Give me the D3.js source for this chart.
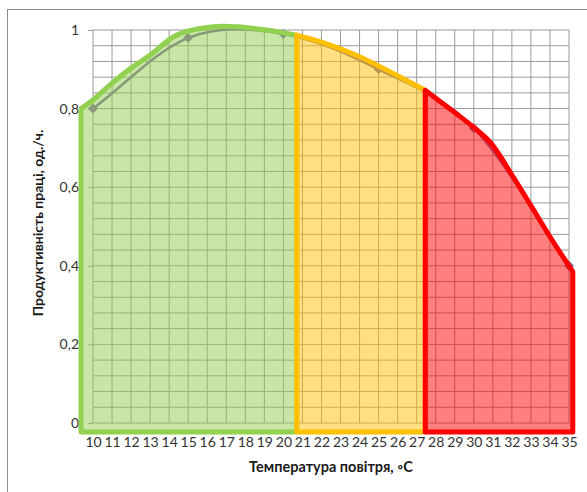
<!DOCTYPE html>
<html>
<head>
<meta charset="utf-8">
<script src="https://cdn.jsdelivr.net/npm/d3@7"></script>
<style>
  html, body { margin: 0; padding: 0; background: #fff; }
  svg { display: block; font-family: Lato, "Open Sans", sans-serif; }
</style>
</head>
<body>
<svg id="chart" width="587" height="492"></svg>
<script>
// Productivity vs. air temperature
const temps = [10, 15, 20, 25, 30, 35];
const productivity = [0.80, 0.98, 0.99, 0.90, 0.75, 0.40];

const xTicks = d3.range(10, 36);                 // 10 … 35
const yTicks = [0, 0.2, 0.4, 0.6, 0.8, 1];
const yMinorStep = 0.04;

// Comfort zones: outline of each shaded band (temperature, level)
const zoneFloor = -0.023;
const zoneGreen = [[9.37, 0.80], [10, 0.822], [11, 0.865], [12, 0.903], [13, 0.936],
                   [14.4, 0.987], [16.3, 1.008], [17.6, 1.008], [19.1, 1.0], [20.7, 0.987]];
const zoneYellow = [[20.7, 0.987], [22.0, 0.969], [24.0, 0.932], [26.1, 0.881], [27.45, 0.847]];
const zoneRed = [[27.45, 0.847], [27.9, 0.830], [29.3, 0.779], [30.0, 0.752], [30.9, 0.712],
                 [32.07, 0.626], [33.04, 0.550], [34.0, 0.474], [35.2, 0.385]];

const yTitle = "Продуктивність праці, од./ч.";
const xTitle = "Температура повітря, \u25E6С";

const svg = d3.select("#chart");

const x = d3.scaleLinear().domain([10, 35]).range([93, 569]);
const y = d3.scaleLinear().domain([0, 1]).range([423, 30]);

// outer frame
svg.append("rect")
  .attr("x", 7.5).attr("y", 9.5).attr("width", 700).attr("height", 700)
  .attr("fill", "none").attr("stroke", "#8c8c8c").attr("stroke-width", 1);

// grid
const grid = svg.append("g").attr("stroke", "#9a9a9a").attr("stroke-width", 1);
grid.selectAll("line.v").data(xTicks).join("line").attr("class", "v")
  .attr("x1", d => x(d)).attr("x2", d => x(d))
  .attr("y1", y(0)).attr("y2", y(1));
const hLines = d3.range(0, 1 + 1e-9, yMinorStep);
grid.selectAll("line.h").data(hLines).join("line").attr("class", "h")
  .attr("x1", x(10)).attr("x2", x(35))
  .attr("y1", d => y(d)).attr("y2", d => y(d));

// y axis (ticks + labels)
const yAxis = d3.axisLeft(y).tickValues(yTicks).tickSize(5).tickPadding(9)
  .tickFormat(d => d3.format("~g")(d).replace(".", ","));
const gy = svg.append("g").attr("transform", `translate(${x(10)},0)`).call(yAxis);
gy.select(".domain").remove();
gy.selectAll(".tick line").attr("stroke", "#9a9a9a");
gy.selectAll(".tick text").attr("fill", "#333").attr("font-size", 14)
  .attr("font-family", "Lato, sans-serif");

// x axis labels
const xAxis = d3.axisBottom(x).tickValues(xTicks).tickSize(0).tickPadding(0)
  .tickFormat(d3.format("d"));
const gx = svg.append("g").attr("transform", `translate(0,437)`).call(xAxis);
gx.select(".domain").remove();
gx.selectAll(".tick text").attr("fill", "#333").attr("font-size", 14)
  .attr("font-family", "Lato, sans-serif");

// data series: smoothed Bezier through the points (end tangents from a mirrored neighbour)
const pts = temps.map((t, i) => [x(t), y(productivity[i])]);
const n = pts.length;
const tang = pts.map((p, i) => {
  const a = pts[Math.max(i - 1, 0)], b = pts[Math.min(i + 1, n - 1)];
  const k = (i === 0 || i === n - 1) ? 1 : 0.5;
  return [(b[0] - a[0]) * k, (b[1] - a[1]) * k];
});
const seriesPath = d3.path();
seriesPath.moveTo(pts[0][0], pts[0][1]);
for (let i = 0; i < n - 1; i++) {
  const p0 = pts[i], p1 = pts[i + 1], m0 = tang[i], m1 = tang[i + 1];
  seriesPath.bezierCurveTo(p0[0] + m0[0] / 3, p0[1] + m0[1] / 3,
                           p1[0] - m1[0] / 3, p1[1] - m1[1] / 3,
                           p1[0], p1[1]);
}
svg.append("path")
  .attr("d", seriesPath.toString()).attr("fill", "none")
  .attr("stroke", "#7d62a0").attr("stroke-width", 2.5);
svg.selectAll("path.marker").data(productivity).join("path").attr("class", "marker")
  .attr("transform", (d, i) => `translate(${x(temps[i])},${y(d)}) rotate(45)`)
  .attr("d", d3.symbol(d3.symbolSquare, 50))
  .attr("fill", "#8064a2");

// shaded zones
const zoneArea = d3.area()
  .x(d => x(d[0])).y0(y(zoneFloor)).y1(d => y(d[1]))
  .curve(d3.curveCatmullRom.alpha(0.5));
const zones = [
  { pts: zoneGreen, color: "#92d050" },
  { pts: zoneYellow, color: "#ffc000" },
  { pts: zoneRed, color: "#ff0000" }
];
svg.selectAll("path.zone").data(zones).join("path").attr("class", "zone")
  .attr("d", d => zoneArea(d.pts))
  .attr("fill", d => d.color).attr("fill-opacity", 0.5)
  .attr("stroke", d => d.color).attr("stroke-width", 5)
  .attr("stroke-linejoin", "round");

// axis titles
svg.append("text")
  .attr("transform", `translate(43,223) rotate(-90)`)
  .attr("text-anchor", "middle")
  .attr("font-size", 14).attr("font-weight", "bold").attr("fill", "#1a1a1a")
  .text(yTitle);
svg.append("text")
  .attr("x", 331).attr("y", 472)
  .attr("text-anchor", "middle")
  .attr("font-size", 14.5).attr("font-weight", "bold").attr("fill", "#1a1a1a")
  .text(xTitle);
</script>
</body>
</html>
